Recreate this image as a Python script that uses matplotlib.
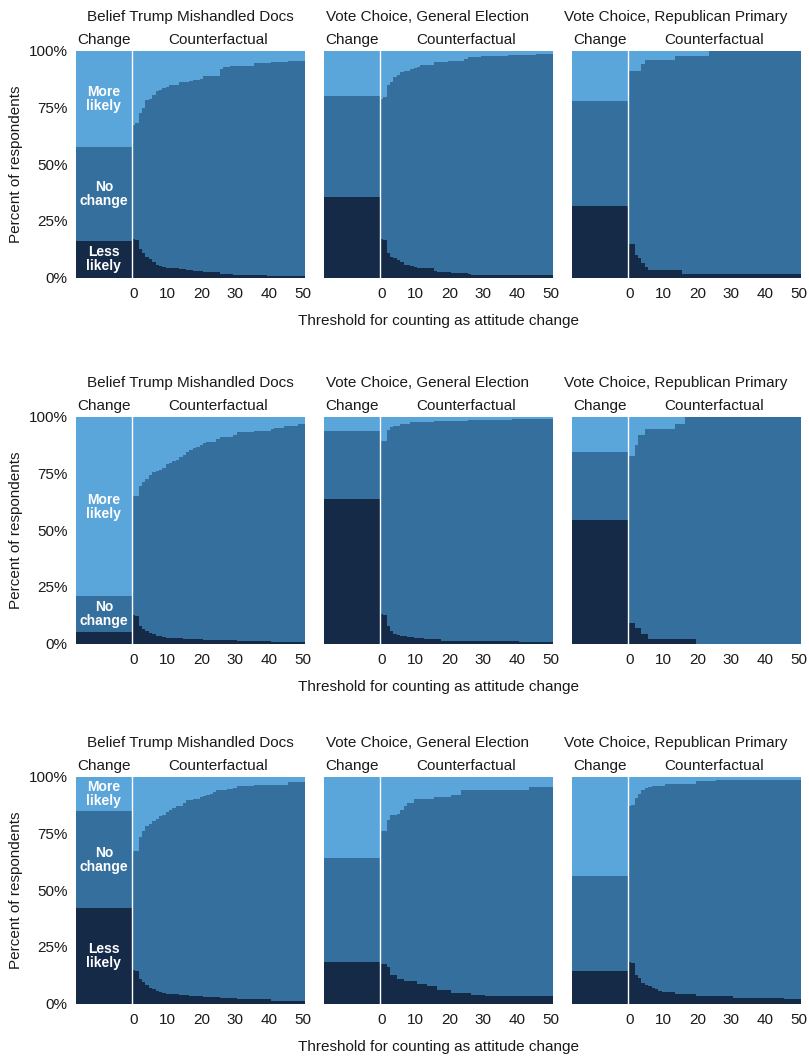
import numpy as np
import matplotlib.pyplot as plt
from matplotlib.transforms import blended_transform_factory

plt.rcParams['font.family'] = ['Liberation Sans', 'DejaVu Sans']

titles = ["Belief Trump Mishandled Docs", "Vote Choice, General Election",
          "Vote Choice, Republican Primary"]
thresholds = np.arange(0, 51)

# observed change: [less likely, no change, more likely] per row / panel
change = [
    [[16.2, 41.5, 42.3], [35.6, 44.5, 19.9], [31.7, 46.4, 21.9]],
    [[5.1, 15.8, 79.1], [63.8, 29.9, 6.3], [54.4, 30.0, 15.6]],
    [[42.2, 42.7, 15.1], [18.2, 46.1, 35.7], [14.3, 42.2, 43.5]],
]

# counterfactual "less likely" share at thresholds 0..50
cf_less = [
    [
        [16.8, 16.5, 12.8, 11.0, 9.1, 8.0, 6.9, 5.7, 5.2, 4.7, 4.4, 4.3, 4.3, 4.0, 3.8, 3.6, 3.5,
         3.3, 2.9, 2.9, 2.8, 2.4, 2.4, 2.4, 2.4, 2.3, 1.6, 1.5, 1.5, 1.4, 1.2,
         1.0, 1.0, 1.0, 1.0, 1.0, 1.0, 1.0, 1.0, 1.0,
         0.7, 0.7, 0.7, 0.7, 0.7, 0.7, 0.7, 0.7, 0.7, 0.7, 0.7],
        [16.9, 16.5, 11.0, 9.1, 8.4, 7.7, 6.9, 5.7, 5.4, 5.0, 4.7, 4.4, 4.4, 4.4, 4.4, 4.4,
         2.9, 2.5, 2.5, 2.5, 2.5, 2.1, 2.1, 2.1, 2.1, 2.1, 1.5,
         1.0, 1.0, 1.0, 1.0, 1.0, 1.0, 1.0, 1.0, 1.0, 1.0, 1.0, 1.0, 1.0, 1.0, 1.0, 1.0,
         1.0, 1.0, 1.0, 1.0, 1.0, 1.0, 1.0, 1.0],
        [14.7, 14.6, 9.9, 8.4, 6.2, 4.7, 3.2, 3.2, 3.2, 3.2, 3.2, 3.2, 3.2, 3.2, 3.2, 3.2,
         1.5, 1.5, 1.5, 1.5, 1.5, 1.5, 1.5, 1.5, 1.5, 1.5, 1.5, 1.5, 1.5, 1.5, 1.5, 1.5,
         1.5, 1.5, 1.5, 1.5, 1.5, 1.5, 1.5, 1.5, 1.5, 1.5, 1.5, 1.5, 1.5, 1.5, 1.5, 1.5,
         1.5, 1.5, 1.5],
    ],
    [
        [12.4, 12.1, 7.9, 6.5, 5.4, 4.7, 4.0, 3.5, 3.2, 2.9, 2.6, 2.4, 2.4, 2.4, 2.4,
         1.8, 1.8, 1.8, 1.8, 1.8, 1.8, 1.5, 1.5, 1.5, 1.5, 1.5, 1.5, 1.5, 1.5, 1.5, 1.5,
         1.0, 1.0, 1.0, 1.0, 1.0, 1.0, 1.0, 1.0, 1.0, 1.0,
         0.6, 0.6, 0.6, 0.6, 0.6, 0.6, 0.6, 0.6, 0.6, 0.6],
        [13.2, 12.4, 7.6, 5.4, 4.4, 3.8, 3.2, 3.2, 2.8, 2.8, 2.4, 2.4, 2.4,
         1.8, 1.8, 1.8, 1.8, 1.8, 1.3, 1.3, 1.3, 1.3, 1.3, 1.3, 1.3, 1.3,
         0.9, 0.9, 0.9, 0.9, 0.9, 0.9, 0.9, 0.9, 0.9, 0.9, 0.9, 0.9, 0.9, 0.9, 0.9,
         0.6, 0.6, 0.6, 0.6, 0.6, 0.6, 0.6, 0.6, 0.6, 0.6],
        [9.1, 9.1, 6.9, 6.9, 4.4, 4.4, 2.2, 2.2, 2.2, 2.2, 2.2, 2.2, 2.2, 2.2, 2.2, 2.2,
         2.2, 2.2, 2.2, 2.2, 0, 0, 0, 0, 0, 0, 0, 0, 0, 0, 0, 0, 0, 0, 0, 0, 0, 0, 0, 0,
         0, 0, 0, 0, 0, 0, 0, 0, 0, 0, 0],
    ],
    [
        [14.7, 14.3, 10.9, 9.4, 8.1, 6.9, 6.2, 5.4, 5.0, 4.7, 4.4, 4.1, 4.1, 4.1,
         3.8, 3.8, 3.8, 3.5, 3.5, 3.5, 3.5, 2.9, 2.9, 2.9, 2.9, 2.9, 2.4, 2.4, 2.4, 2.4, 2.4,
         1.8, 1.8, 1.8, 1.8, 1.8, 1.8, 1.8, 1.8, 1.8, 1.8,
         1.0, 1.0, 1.0, 1.0, 1.0, 1.0, 1.0, 1.0, 1.0, 1.0],
        [17.6, 17.6, 16.0, 12.8, 12.8, 10.9, 10.9, 9.9, 9.9, 9.9, 9.9, 8.8, 8.8, 8.8,
         7.6, 7.6, 7.6, 5.9, 5.9, 5.9, 5.9, 4.7, 4.7, 4.7, 4.7, 4.7, 4.7, 3.8, 3.8, 3.8, 3.8,
         3.2, 3.2, 3.2, 3.2, 3.2, 3.2, 3.2, 3.2, 3.2, 3.2, 3.2, 3.2, 3.2, 3.2, 3.2, 3.2,
         3.2, 3.2, 3.2, 3.2],
        [18.2, 17.9, 12.8, 11.3, 9.1, 8.1, 7.6, 6.9, 6.2, 5.4, 5.0, 5.0, 5.0, 5.0,
         4.4, 4.4, 4.4, 4.4, 4.4, 4.4, 3.2, 3.2, 3.2, 3.2, 3.2, 3.2, 3.2, 3.2, 3.2, 3.2, 3.2,
         2.5, 2.5, 2.5, 2.5, 2.5, 2.5, 2.5, 2.5, 2.5, 2.5, 2.5, 2.5, 2.5, 2.5, 2.5,
         1.8, 1.8, 1.8, 1.8, 1.8],
    ],
]

# counterfactual "more likely" share at thresholds 0..50
cf_more = [
    [
        [32.7, 31.7, 27.5, 25.3, 21.7, 21.2, 19.4, 17.5, 17.0, 16.5, 15.8, 15.0, 15.0, 14.8,
         13.8, 13.8, 13.6, 13.4, 12.8, 12.6, 12.4, 11.0, 11.0, 11.0, 11.0, 11.0, 8.0, 7.0,
         7.0, 6.8, 6.5, 6.5, 6.5, 6.5, 6.5, 6.5, 5.5, 5.5, 5.5, 5.5, 5.5,
         5.0, 5.0, 5.0, 5.0, 5.0, 4.6, 4.6, 4.6, 4.6, 4.6],
        [21.2, 20.2, 15.0, 13.6, 11.3, 10.6, 9.1, 8.7, 8.7, 8.1, 7.4, 6.9, 6.3, 6.3, 6.3, 6.3,
         4.9, 4.9, 4.9, 4.9, 4.3, 4.3, 4.3, 4.3, 4.3, 3.7, 2.8, 2.8, 2.8, 2.8,
         2.2, 2.2, 2.2, 2.2, 2.2, 2.2, 2.2, 2.2, 1.8, 1.8, 1.8, 1.8, 1.8, 1.8, 1.8, 1.8,
         1.3, 1.3, 1.3, 1.3, 1.3],
        [8.8, 8.8, 8.8, 8.8, 5.7, 4.0, 4.0, 4.0, 4.0, 4.0, 4.0, 4.0, 4.0, 4.0,
         2.2, 2.2, 2.2, 2.2, 2.2, 2.2, 2.2, 2.2, 2.2, 2.2, 0, 0, 0, 0, 0, 0, 0, 0, 0, 0,
         0, 0, 0, 0, 0, 0, 0, 0, 0, 0, 0, 0, 0, 0, 0, 0, 0],
    ],
    [
        [35.0, 35.0, 30.3, 28.8, 27.4, 25.4, 24.4, 23.7, 23.2, 22.5, 20.6, 20.3, 19.6, 18.8,
         17.6, 16.6, 15.6, 14.7, 13.7, 13.2, 12.2, 11.5, 11.2, 11.2, 11.2, 9.7,
         9.0, 9.0, 9.0, 9.0, 7.8, 6.8, 6.8, 6.8, 6.8, 6.8, 6.3, 6.3, 6.3, 6.3, 6.3,
         5.3, 4.9, 4.9, 4.9, 4.1, 4.1, 4.1, 4.1, 2.9, 2.9],
        [10.7, 10.7, 5.6, 4.6, 3.8, 3.8, 2.9, 2.9, 2.9, 2.4, 2.4, 2.4, 2.4, 2.4, 2.4, 2.4,
         1.8, 1.8, 1.8, 1.8, 1.8, 1.8, 1.8, 1.8, 1.8, 1.8,
         1.5, 1.5, 1.5, 1.5, 1.5, 1.5, 1.5, 1.5, 1.5, 1.5, 1.5, 1.5, 1.5,
         0.9, 0.9, 0.9, 0.9, 0.9, 0.9, 0.9, 0.9, 0.9, 0.9, 0.9, 0.9],
        [17.1, 17.1, 12.2, 7.8, 7.8, 5.3, 5.3, 5.3, 5.3, 5.3, 5.3, 5.3, 5.3, 5.3,
         2.9, 2.9, 2.9, 0, 0, 0, 0, 0, 0, 0, 0, 0, 0, 0, 0, 0, 0, 0, 0, 0, 0, 0, 0, 0,
         0, 0, 0, 0, 0, 0, 0, 0, 0, 0, 0, 0, 0],
    ],
    [
        [32.5, 32.5, 26.5, 24.0, 21.8, 20.6, 19.6, 18.4, 17.4, 16.6, 15.6, 14.4, 13.7, 12.9,
         12.6, 11.5, 10.0, 10.0, 9.6, 9.6, 8.8, 8.2, 7.8, 7.4, 6.8, 5.6, 5.6, 5.6, 5.1, 5.1,
         4.9, 4.1, 4.1, 4.1, 4.1, 4.1, 3.7, 3.7, 3.7, 3.7, 3.7,
         3.4, 3.4, 3.4, 3.4, 3.4, 2.4, 2.4, 2.4, 2.4, 2.4],
        [24.0, 24.0, 18.8, 16.9, 16.9, 16.2, 14.7, 12.6, 11.5, 11.5, 9.6, 9.6, 9.6, 9.6,
         9.6, 9.6, 8.8, 8.8, 8.8, 8.8, 8.8, 7.8, 7.8, 7.8, 5.9,
         5.6, 5.6, 5.6, 5.6, 5.6, 5.6, 5.6, 5.6, 5.6, 5.6, 5.6, 5.6, 5.6, 5.6, 5.6, 5.6,
         5.6, 5.6, 5.6, 4.6, 4.6, 4.6, 4.6, 4.6, 4.6, 4.6],
        [12.6, 12.2, 9.3, 7.4, 5.6, 4.9, 4.4, 3.8, 3.8, 3.8, 3.8,
         3.1, 3.1, 3.1, 3.1, 3.1, 3.1, 3.1, 3.1, 3.1, 1.9, 1.9, 1.9, 1.9, 1.9, 1.9,
         1.2, 1.2, 1.2, 1.2, 1.2, 1.2, 1.2, 1.2, 1.2, 1.2, 1.2, 1.2, 1.2, 1.2, 1.2, 1.2,
         1.2, 1.2, 1.2, 1.2, 1.2, 1.2, 1.2, 1.2, 1.2],
    ],
]

seg_labels = ["Less\nlikely", "No\nchange", "More\nlikely"]
colors = ["#152a47", "#356f9e", "#5aa5da"]
txt_col = "#1a1a1a"

W, H = 809, 1058
fig = plt.figure(figsize=(W / 100, H / 100), dpi=100)

col_left = [76, 324, 572]
title_x = [190, 428, 676]   # title centres in pixels
row_top = [51, 417, 777]
aw, ah = 228.5, 226.5
edges = np.append(thresholds - 0.5, thresholds[-1] + 0.5)
ch_left, ch_right = -17, -0.5

for r in range(3):
    for c in range(3):
        ax = fig.add_axes([col_left[c] / W, 1 - (row_top[r] + ah) / H, aw / W, ah / H])

        # observed change bar
        bottom = 0
        for k in range(3):
            v = change[r][c][k]
            ax.bar((ch_left + ch_right) / 2, v, width=ch_right - ch_left, bottom=bottom,
                   color=colors[k], linewidth=0)
            if c == 0 and v >= 10:
                ax.text((ch_left + ch_right) / 2, bottom + v / 2, seg_labels[k], color="white",
                        fontsize=10, fontweight="bold", ha="center", va="center",
                        linespacing=1.0)
            bottom += v

        # counterfactual stacked steps
        less = np.array(cf_less[r][c])
        more = np.array(cf_more[r][c])
        top_mid = 100 - more
        ax.stairs(less, edges, baseline=0, fill=True, color=colors[0], linewidth=0)
        ax.stairs(top_mid, edges, baseline=less, fill=True, color=colors[1], linewidth=0)
        ax.stairs(np.full(len(thresholds), 100.0), edges, baseline=top_mid, fill=True,
                  color=colors[2], linewidth=0)

        ax.axvline(-0.5, color="white", linewidth=1.0)

        ax.set_xlim(ch_left, 50.5)
        ax.set_ylim(0, 100)
        for s in ax.spines.values():
            s.set_visible(False)
        ax.set_xticks([0, 10, 20, 30, 40, 50])
        ax.tick_params(axis="x", length=0, pad=7, labelsize=11, labelcolor=txt_col)
        if c == 0:
            ax.set_yticks([0, 25, 50, 75, 100])
            ax.set_yticklabels(["0%", "25%", "50%", "75%", "100%"])
            ax.tick_params(axis="y", length=0, pad=6, labelsize=11, labelcolor=txt_col)
            ax.set_ylabel("Percent of respondents", fontsize=11, color=txt_col, labelpad=4)
        else:
            ax.set_yticks([])

        trans = blended_transform_factory(ax.transData, ax.transAxes)
        fig.text(title_x[c] / W, 1 - (row_top[r] - 34) / H, titles[c], ha="center",
                 va="center", fontsize=11, color=txt_col)
        ax.text((ch_left + ch_right) / 2, 1 + 11 / ah, "Change", transform=trans,
                ha="center", va="center", fontsize=11, color=txt_col)
        ax.text(25, 1 + 11 / ah, "Counterfactual", transform=trans, ha="center",
                va="center", fontsize=11, color=txt_col)

    # shared x label per row
    xc = (col_left[0] + col_left[2] + aw) / 2
    fig.text(xc / W, 1 - (row_top[r] + ah + 43) / H,
             "Threshold for counting as attitude change", ha="center", va="center",
             fontsize=11, color=txt_col)

fig.savefig("out.png", dpi=100)
